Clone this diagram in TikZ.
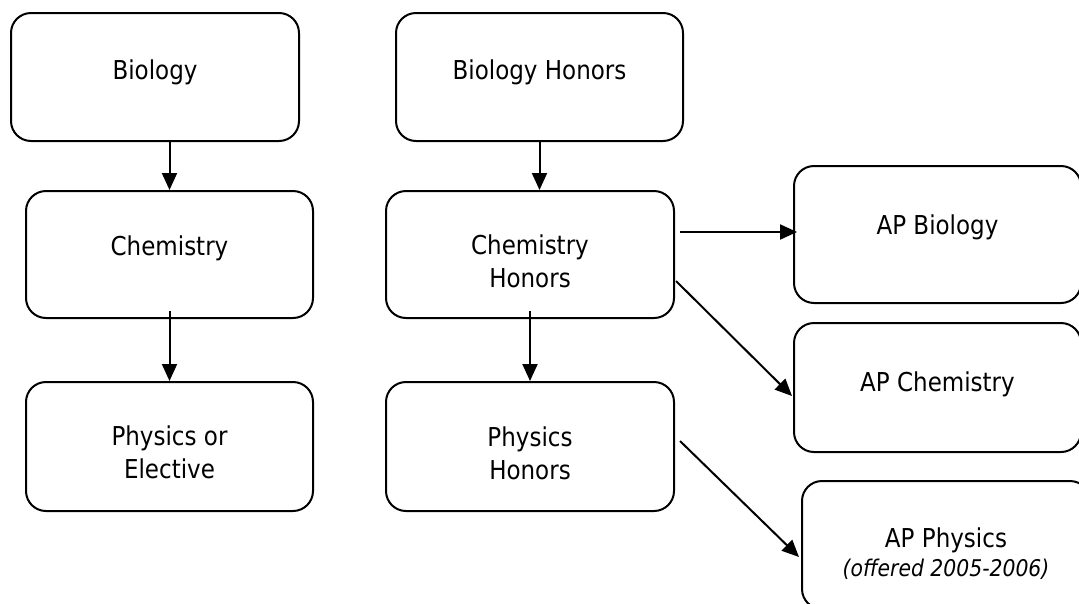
\documentclass[tikz,border=0pt]{standalone}
\usepackage{fontspec}
\setmainfont{DejaVu Sans}[FakeStretch=0.885]
\usetikzlibrary{arrows.meta,calc}

% text block of a course box: width, height, space above first line, lines
\newcommand\coursebox[4]{\parbox[c][#2pt][t]{#1pt}{\centering\vspace*{#3pt}#4}}

\tikzset{
  course/.style={draw, line width=2pt, rounded corners=20pt, inner sep=0pt,
    font=\fontsize{26}{33}\selectfont},
  arr/.style={-{Triangle[length=17pt 0 0,width=15pt 0 0]}, line width=2pt},
}

\begin{document}
\begin{tikzpicture}[x=1pt, y=-1pt]
\useasboundingbox (0,0) rectangle (1079,603);
\fill[white] (0,0) rectangle (1079,603);
\clip (0,0) rectangle (1079,603);

% regular track
\node[course] (bio)   at (155,77)     {\coursebox{288}{128}{47}{Biology}};
\node[course] (chem)  at (169.5,254.5){\coursebox{287}{127}{45}{Chemistry}};
\node[course] (phys)  at (169.5,446.5){\coursebox{287}{129}{44}{Physics or\\Elective}};

% honors track
\node[course] (bioh)  at (539.5,77)   {\coursebox{287}{128}{47}{Biology Honors}};
\node[course] (chemh) at (530,254.5)  {\coursebox{288}{127}{44}{Chemistry\\Honors}};
\node[course] (physh) at (530,446.5)  {\coursebox{288}{129}{45}{Physics\\Honors}};

% AP courses
\node[course] (apbio)  at (937.5,234.5){\coursebox{287}{137}{49}{AP Biology}};
\node[course] (apchem) at (937.5,387.5){\coursebox{287}{129}{49}{AP Chemistry}};
\node[course] (apphys) at (946,545)    {\coursebox{288}{128}{47}{AP Physics\\[-4pt]
  {\fontsize{23}{29}\selectfont\itshape (offered 2005-2006)}}};

% connectors
\draw[arr] (bio.south -| chem.north) -- (chem.north);
\draw[arr] (bioh.south) -- (bioh.south |- chemh.north);
\draw[arr] ($(chem.south)+(0,-8)$) -- (phys.north);
\draw[arr] ($(chemh.south)+(0,-8)$) -- (physh.north);

\coordinate (s5) at ($(chemh.east)+(5,-22.5)$);
\draw[arr] (s5) -- ($(s5 -| apbio.west)+(4,0)$);
\draw[arr] ($(chemh.east)+(1,26.5)$) -- ($(apchem.west)+(-1,8.5)$);
\draw[arr] ($(physh.east)+(5,-5.5)$) -- ($(apphys.west)+(-2,12)$);
\end{tikzpicture}
\end{document}
